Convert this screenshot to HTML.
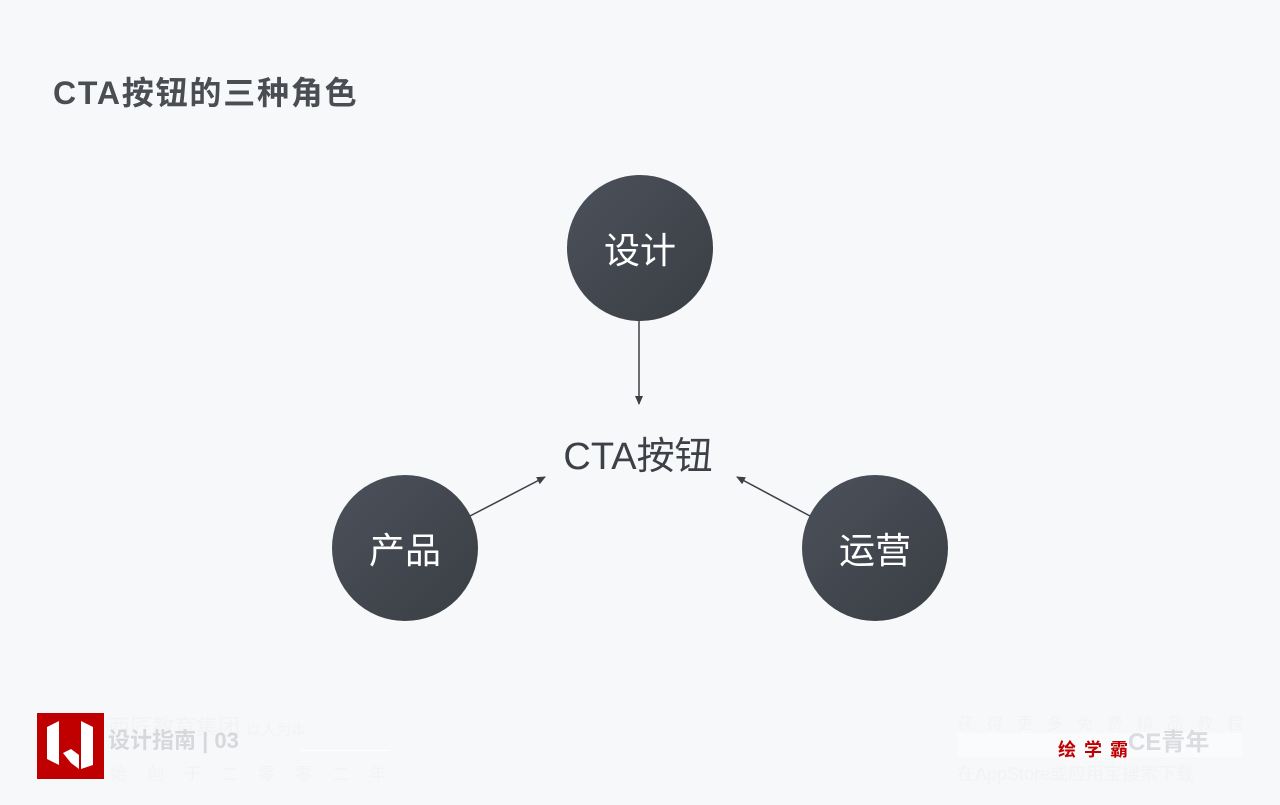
<!DOCTYPE html>
<html><head><meta charset="utf-8"><style>
body{margin:0;width:1280px;height:805px;background:#f6f8fa;position:relative;overflow:hidden;font-family:"Liberation Sans","Noto Sans CJK SC",sans-serif;}
.t{position:absolute;left:53px;top:68px;font-size:32px;font-weight:bold;color:#4a4d52;letter-spacing:1.8px}
.c{position:absolute;width:146px;height:146px;border-radius:50%;background:linear-gradient(135deg,#4b515b,#3a3e44);color:#fff;font-size:36px;display:flex;align-items:center;justify-content:center}
.m{position:absolute;left:518px;top:425px;width:240px;text-align:center;font-size:38px;color:#3d4046}
.w{position:absolute;color:#f1f3f5;font-size:22px}
</style></head><body>
<div class="t">CTA按钮的三种角色</div>
<div class="c" style="left:567px;top:175px">设计</div>
<div class="c" style="left:332px;top:475px">产品</div>
<div class="c" style="left:802px;top:475px">运营</div>
<div class="m">CTA按钮</div>
<svg width="1280" height="805" style="position:absolute;left:0;top:0">
<defs><marker id="a" markerWidth="10" markerHeight="10" refX="8" refY="5" orient="auto" markerUnits="userSpaceOnUse"><path d="M0,1 L9,5 L0,9z" fill="#3d4046"/></marker></defs>
<line x1="639" y1="321" x2="639" y2="404" stroke="#3d4046" stroke-width="1.5" marker-end="url(#a)"/>
<line x1="470" y1="516" x2="545" y2="477" stroke="#3d4046" stroke-width="1.5" marker-end="url(#a)"/>
<line x1="810" y1="516" x2="737" y2="477" stroke="#3d4046" stroke-width="1.5" marker-end="url(#a)"/>
</svg>
<div style="position:absolute;left:37px;top:713px;width:67px;height:66px;background:#c00000"></div>
<svg style="position:absolute;left:37px;top:713px" width="67" height="66"><path d="M10,14 L22,8 L22,52 L10,46z M26,40 L34,36 L42,42 L42,56 L34,50z M44,8 L56,14 L56,52 L44,56z" fill="#fff"/></svg>
<div class="w" style="left:108px;top:710px">西匠教育集团 <span style="font-size:15px">以人为本</span></div>
<div style="position:absolute;left:108px;top:723px;font-size:22px;font-weight:bold;color:#d6d8dc">设计指南 | 03</div>
<div style="position:absolute;left:300px;top:750px;width:90px;height:1px;background:#fff"></div>
<div class="w" style="left:110px;top:760px;font-size:17px;letter-spacing:20px">始创于二零零二年</div>
<div class="w" style="left:957px;top:710px;font-size:16px;letter-spacing:14px">获得更多免费精品教程</div>
<div style="position:absolute;left:957px;top:733px;width:285px;height:24px;background:#fafbfc"></div>
<div style="position:absolute;left:1128px;top:722px;font-size:24px;font-weight:bold;color:#dadcdf">CE青年</div>
<div style="position:absolute;left:1058px;top:736px;font-size:18px;font-weight:bold;color:#c00000;letter-spacing:8px">绘学霸</div>
<div class="w" style="left:957px;top:760px;font-size:18px">在AppStore或应用宝搜索下载</div>
</body></html>
